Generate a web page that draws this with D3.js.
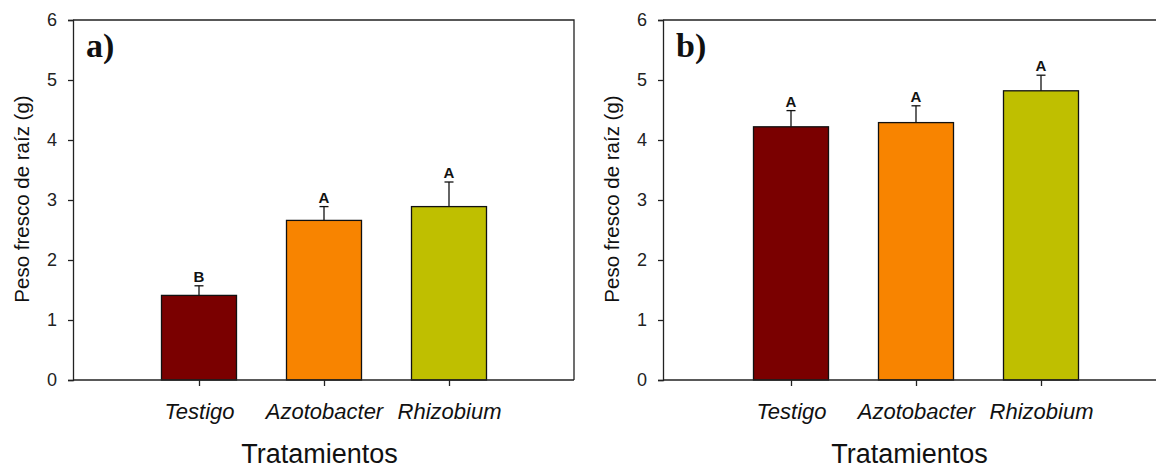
<!DOCTYPE html>
<html>
<head>
<meta charset="utf-8">
<script src="https://cdn.jsdelivr.net/npm/d3@7"></script>
<style>
  body { margin: 0; background: #fff; }
  svg { display: block; }
</style>
</head>
<body>
<div id="chart"></div>
<script>
// data
const treatments = ["Testigo", "Azotobacter", "Rhizobium"]
const colors = ["#7a0000", "#f88400", "#bfbf00"]
const panelLabels = ["a)", "b)"]
const meansA = [1.41, 2.66, 2.89]
const errA = [0.16, 0.23, 0.41]
const lettersA = ["B", "A", "A"]
const meansB = [4.22, 4.29, 4.82]
const errB = [0.27, 0.28, 0.26]
const lettersB = ["A", "A", "A"]
const yTicks = [0, 1, 2, 3, 4, 5, 6]

const width = 1156
const height = 468
const sans = "'Liberation Sans', Arial, sans-serif"

let svg = d3.select("#chart")
            .append("svg")
            .attr("width", width)
            .attr("height", height)

function drawPanel(left, firstOffset, label, means, errs, letters) {
  const right = left + 501
  const top = 20
  const bottom = 380

  let yScale = d3.scaleLinear()
                 .domain([0, 6])
                 .range([bottom, top])
  let xScale = d3.scalePoint()
                 .domain(treatments)
                 .range([left + firstOffset, left + firstOffset + 250])
  const barW = 75

  let g = svg.append("g")

  // frame: top and right
  g.append("path")
   .attr("d", "M" + left + "," + top + "H" + right + "V" + bottom)
   .attr("fill", "none")
   .attr("stroke", "#222")
   .attr("stroke-width", 1.3)

  let yAxis = d3.axisLeft(yScale)
                .tickValues(yTicks)
                .tickSize(5)
                .tickPadding(11)
                .tickFormat(d3.format("d"))
  let ya = g.append("g")
            .attr("transform", "translate(" + left + ",0)")
            .call(yAxis)
  ya.select(".domain").attr("stroke", "#222").attr("stroke-width", 1.3)
  ya.selectAll(".tick line").attr("stroke", "#222").attr("stroke-width", 1.3)
  ya.selectAll("text")
    .attr("fill", "#222")
    .style("font-family", sans)
    .style("font-size", "18px")

  // bars
  g.selectAll(".bar")
   .data(means)
   .enter().append("rect")
   .attr("x", (d, i) => xScale(treatments[i]) - barW / 2)
   .attr("y", d => yScale(d))
   .attr("width", barW)
   .attr("height", d => yScale(0) - yScale(d))
   .attr("fill", (d, i) => colors[i])
   .attr("stroke", "#111")
   .attr("stroke-width", 1.3)

  // upper error bars + letters
  means.forEach(function(m, i) {
    let cx = xScale(treatments[i])
    let yt = yScale(m + errs[i])
    g.append("line")
     .attr("x1", cx).attr("x2", cx)
     .attr("y1", yScale(m)).attr("y2", yt)
     .attr("stroke", "#111").attr("stroke-width", 1.3)
    g.append("line")
     .attr("x1", cx - 4.5).attr("x2", cx + 4.5)
     .attr("y1", yt).attr("y2", yt)
     .attr("stroke", "#111").attr("stroke-width", 1.3)
    g.append("text")
     .attr("x", cx)
     .attr("y", yt - 4)
     .attr("text-anchor", "middle")
     .style("font-family", sans)
     .style("font-weight", "bold")
     .style("font-size", "15px")
     .attr("fill", "#111")
     .text(letters[i])
  })

  let xAxis = d3.axisBottom(xScale)
                .tickSize(6)
                .tickPadding(17)
  let xa = g.append("g")
            .attr("transform", "translate(0," + bottom + ")")
            .call(xAxis)
  xa.select(".domain")
    .attr("d", "M" + left + ",0H" + right)
    .attr("stroke", "#222").attr("stroke-width", 1.3)
  xa.selectAll(".tick line").attr("stroke", "#222").attr("stroke-width", 1.3)
  xa.selectAll("text")
    .attr("fill", "#111")
    .style("font-family", sans)
    .style("font-style", "italic")
    .style("font-size", "22px")

  // axis titles
  g.append("text")
   .attr("transform", "rotate(-90)")
   .attr("x", -199)
   .attr("y", left - 44)
   .attr("text-anchor", "middle")
   .style("font-family", sans)
   .style("font-size", "20.5px")
   .attr("fill", "#111")
   .text("Peso fresco de raíz (g)")

  g.append("text")
   .attr("x", (left + right) / 2 - 4)
   .attr("y", 463)
   .attr("text-anchor", "middle")
   .style("font-family", sans)
   .style("font-size", "27px")
   .attr("fill", "#111")
   .text("Tratamientos")

  g.append("text")
   .attr("x", left + 13)
   .attr("y", 57)
   .style("font-family", "'Liberation Serif', 'Times New Roman', serif")
   .style("font-weight", "bold")
   .style("font-size", "34px")
   .attr("fill", "#111")
   .text(label)
}

drawPanel(73, 126, panelLabels[0], meansA, errA, lettersA)
drawPanel(663, 128, panelLabels[1], meansB, errB, lettersB)
</script>
</body>
</html>
